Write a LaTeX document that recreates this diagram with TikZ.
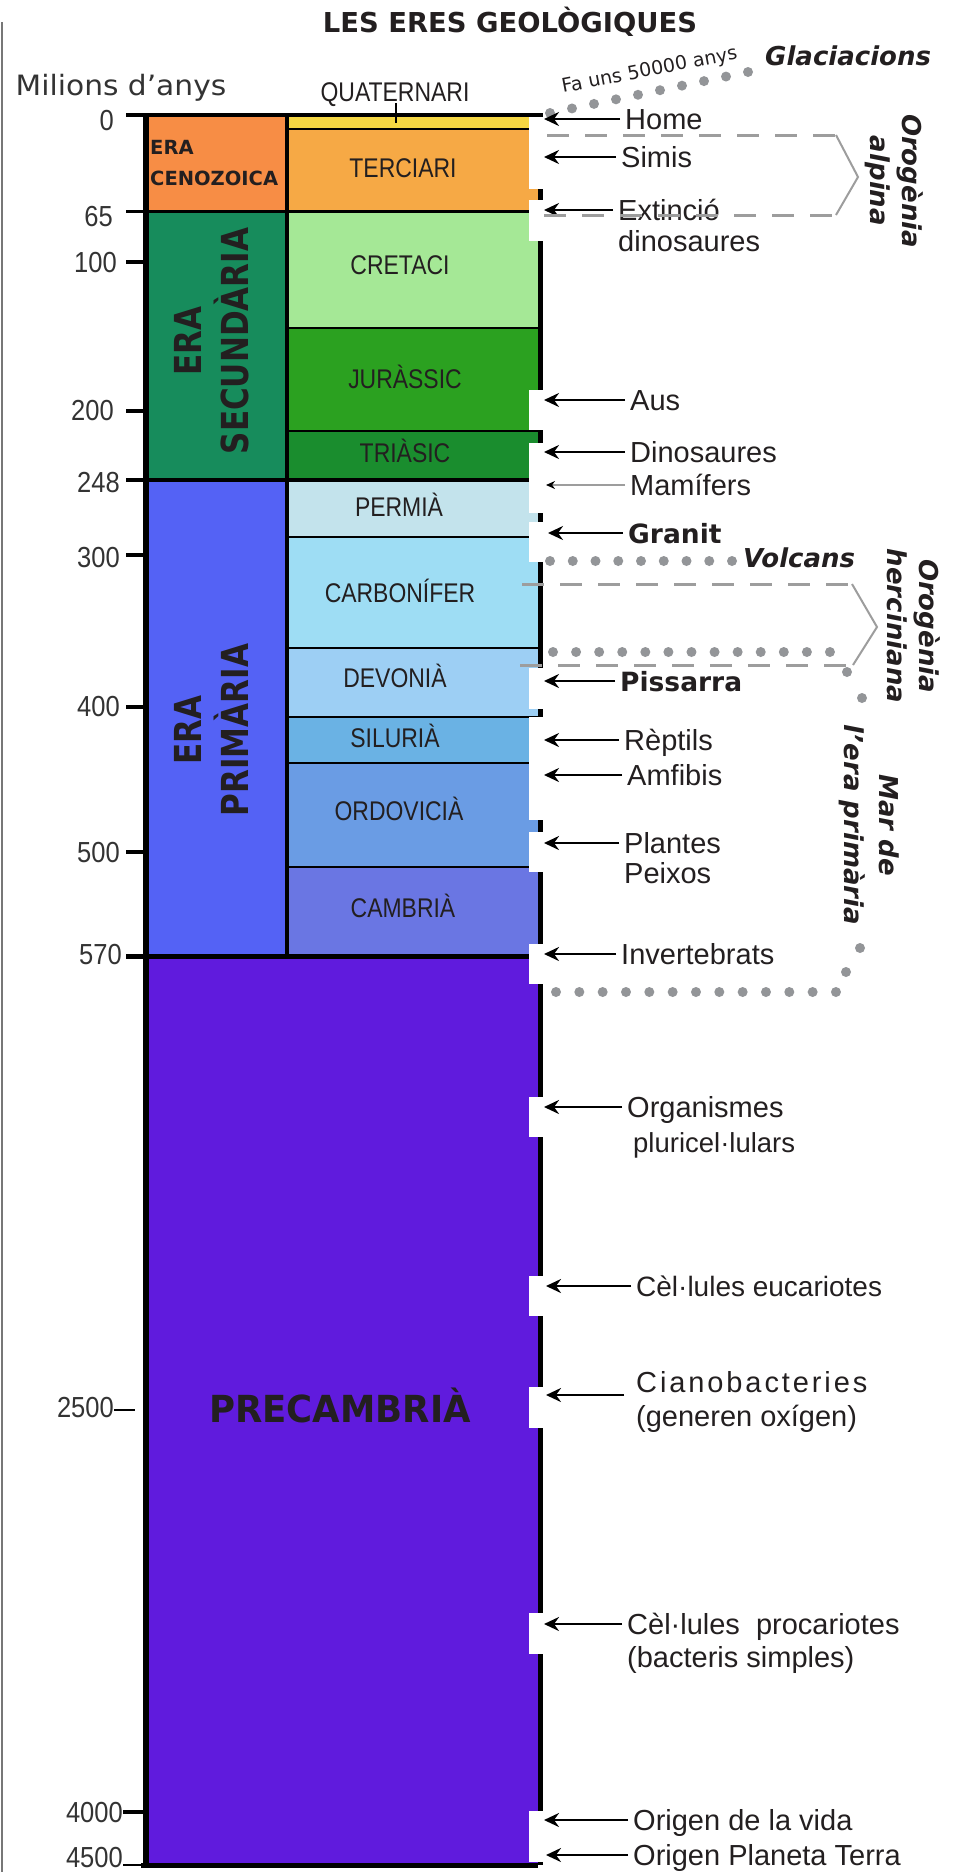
\documentclass[tikz,border=0pt]{standalone}
\usepackage{fontspec}
\setmainfont{DejaVu Sans}
\newfontfamily\numfont[FakeStretch=0.88]{Liberation Sans}
\newfontfamily\perfont[FakeStretch=0.85]{Liberation Sans}
\newfontfamily\lbfont{Liberation Sans}
\usetikzlibrary{arrows.meta,calc}
\definecolor{cen}{HTML}{F78D45}
\definecolor{qua}{HTML}{F6D743}
\definecolor{ter}{HTML}{F6A945}
\definecolor{sec}{HTML}{178C5C}
\definecolor{cre}{HTML}{A5E896}
\definecolor{jur}{HTML}{2BA120}
\definecolor{tri}{HTML}{1A8D2E}
\definecolor{pri}{HTML}{5462F5}
\definecolor{pem}{HTML}{C3E3EC}
\definecolor{car}{HTML}{9EDDF4}
\definecolor{dev}{HTML}{9DCFF4}
\definecolor{sil}{HTML}{6AB2E4}
\definecolor{ord}{HTML}{6A9CE4}
\definecolor{cam}{HTML}{6A76E3}
\definecolor{pre}{HTML}{601BDD}
\definecolor{txt}{HTML}{231F20}
\definecolor{numc}{HTML}{333333}
\definecolor{dotg}{HTML}{939598}
\definecolor{dashg}{HTML}{9D9D9D}
\definecolor{frame}{HTML}{777777}
\tikzset{
  lbl/.style={anchor=west, inner xsep=5pt, inner ysep=0pt, text height=21pt, text depth=0pt, font=\lbfont\fontsize{29}{33}\selectfont, text=txt},
  blbl/.style={lbl, font=\fontsize{26.5}{31}\selectfont\bfseries},
  arr/.style={line width=2.5pt, -{Stealth[length=15pt,width=14pt,inset=5pt]}},
  per/.style={font=\perfont\fontsize{27}{30}\selectfont, text=txt, inner sep=0pt, text height=19.3pt, text depth=0pt},
  num/.style={anchor=east, font=\numfont\fontsize{29}{30}\selectfont, text=numc, inner sep=0pt, text height=21pt, text depth=0pt},
  tickl/.style={line width=3.5pt},
  notch/.style={fill=white},
  dashl/.style={draw=dashg, line width=3pt, dash pattern=on 22pt off 16pt},
  chev/.style={draw=dashg, line width=2pt},
  rot/.style={font=\fontsize{26}{32}\selectfont\bfseries\itshape, text=txt, align=center, rotate=-90, inner sep=0pt},
  eralbl/.style={font=\fontsize{31}{31}\selectfont\bfseries, text=txt, rotate=90, inner sep=0pt, text height=27pt, text depth=0pt},
  bit/.style={font=\fontsize{26}{31}\selectfont\bfseries\itshape, text=txt, inner sep=0pt, anchor=west},
}
\begin{document}
\begin{tikzpicture}[x=1pt,y=-1pt]
\useasboundingbox (0,0) rectangle (959,1872);

% frame line at left
\draw[draw=frame, line width=2pt] (1.5,22) -- (1.5,1872);

% title and axis caption
\node[font=\fontsize{27.4}{30}\selectfont\bfseries, text=txt, inner sep=0pt, text height=20pt, text depth=0pt] (title) at (510,22) {LES ERES GEOLÒGIQUES};
\node[font=\fontsize{28}{30}\selectfont, text=numc, inner sep=0pt, text height=20pt, text depth=0pt] (milions) at (121,85) {\scalebox{1.06}[1]{Milions d'anys}};

% fills: eras
\fill[cen] (146,115) rectangle (287,211);
\fill[sec] (146,211) rectangle (287,480);
\fill[pri] (146,480) rectangle (287,956);
\fill[pre] (146,956) rectangle (538,1865);
% fills: periods
\fill[qua] (287,115) rectangle (538,129);
\fill[ter] (287,129) rectangle (538,211);
\fill[cre] (287,211) rectangle (538,328);
\fill[jur] (287,328) rectangle (538,431);
\fill[tri] (287,431) rectangle (538,480);
\fill[pem] (287,480) rectangle (538,537);
\fill[car] (287,537) rectangle (538,648);
\fill[dev] (287,648) rectangle (538,717);
\fill[sil] (287,717) rectangle (538,763);
\fill[ord] (287,763) rectangle (538,867);
\fill[cam] (287,867) rectangle (538,956);

% period boundaries
\foreach \yy in {129,328,431,537,648,717,763,867}
  \draw[line width=2pt] (287,\yy) -- (538,\yy);
% era boundaries
\draw[line width=4pt] (126,115) -- (538,115);
\draw[line width=3pt] (126,211) -- (538,211);
\draw[line width=4pt] (126,480) -- (538,480);
\draw[line width=5pt] (126,956) -- (538,956);
% column borders
\draw[line width=5.5pt] (146,113) -- (146,1867);
\draw[line width=3.5pt] (287,115) -- (287,956);
\draw[line width=5pt] (540,113) -- (540,1865);
\draw[line width=5pt] (141,1865) -- (538,1865);
% ticks
\foreach \yy in {262,411,555,707,852}
  \draw[tickl] (126,\yy) -- (146,\yy);
\draw[tickl] (123,1812) -- (146,1812);
\draw[line width=1.5pt] (114,1410) -- (135,1410);
\draw[line width=2pt] (123,1865) -- (141,1865);
\draw[line width=1.5pt] (396,103) -- (396,123);

% axis numbers
\node[num] (n0) at (114,120) {0};
\node[num] (n65) at (113,216) {65};
\node[num] (n100) at (117,262) {100};
\node[num] (n200) at (114,410) {200};
\node[num] (n248) at (120,482) {248};
\node[num] (n300) at (120,557) {300};
\node[num] (n400) at (120,706) {400};
\node[num] (n500) at (120,852) {500};
\node[num] (n570) at (122,954) {570};
\node[num] (n2500) at (114,1407) {2500};
\node[num] (n4000) at (123,1812) {4000};
\node[num] (n4500) at (123,1857) {4500};

% period names
\node[per] (pqua) at (395,92) {QUATERNARI};
\node[per] (pter) at (403,168) {TERCIARI};
\node[per] (pcre) at (400,265) {CRETACI};
\node[per] (pjur) at (405,379) {JURÀSSIC};
\node[per] (ptri) at (405,453) {TRIÀSIC};
\node[per] (ppem) at (399,507) {PERMIÀ};
\node[per] (pcar) at (400,593) {CARBONÍFER};
\node[per] (pdev) at (395,678) {DEVONIÀ};
\node[per] (psil) at (395,738) {SILURIÀ};
\node[per] (pord) at (399,811) {ORDOVICIÀ};
\node[per] (pcam) at (403,908) {CAMBRIÀ};

% era names
\node[font=\fontsize{19.5}{22}\selectfont\bfseries, text=txt, anchor=west, inner sep=0pt, text height=14pt, text depth=0pt] (ecen1) at (150,147) {ERA};
\node[font=\fontsize{19.5}{22}\selectfont\bfseries, text=txt, anchor=west, inner sep=0pt, text height=14pt, text depth=0pt] (ecen2) at (150,178) {CENOZOICA};
\node[eralbl] (esec1) at (188,341) {\scalebox{1}[1.2]{ERA}};
\node[eralbl] (esec2) at (235,341) {\scalebox{1}[1.2]{SECUNDÀRIA}};
\node[eralbl] (epri1) at (188,730) {\scalebox{1}[1.2]{ERA}};
\node[eralbl] (epri2) at (235,730) {\scalebox{1}[1.2]{PRIMÀRIA}};
\node[font=\fontsize{35.5}{36}\selectfont\bfseries, text=txt, inner sep=0pt, text height=27pt, text depth=0pt] (epre) at (340,1409) {\scalebox{1}[1.05]{PRECAMBRIÀ}};

% white notches at the arrow tips
\foreach \ya/\yb in {117/189,200/241,390/430,443/513,522/562,668/709,717/820,832/872,944/984,1097/1137,1276/1316,1387/1428,1613/1654,1811/1862}
  \fill[notch] (529,\ya) rectangle (547,\yb);

% dotted lines
\foreach \i in {0,...,9}
  \fill[dotg] ({550+\i*22},{113-\i*4.556}) circle[radius=5pt];
\foreach \i in {0,...,8}
  \fill[dotg] ({550+\i*22.75},561) circle[radius=5pt];
\foreach \i in {0,...,12}
  \fill[dotg] ({553+\i*23.08},652) circle[radius=5pt];
\foreach \i in {0,...,12}
  \fill[dotg] ({556+\i*23.33},992) circle[radius=5pt];
\foreach \p in {(847,672),(862,698),(860,948),(846,972)}
  \fill[dotg] \p circle[radius=5pt];

% labels
\node[lbl] (home) at (620,119) {Home};
\node[lbl] (simis) at (616,157) {Simis};
\node[lbl] (ext1) at (613,210) {Extinció};
\node[lbl] (ext2) at (613,241) {dinosaures};
\node[lbl] (aus) at (625,400) {Aus};
\node[lbl] (dino) at (625,452) {Dinosaures};
\node[lbl] (mam) at (625,485) {Mamífers};
\node[blbl] (granit) at (623,533) {Granit};
\node[blbl] (piss) at (615,681) {Pissarra};
\node[lbl] (rept) at (619,740) {Rèptils};
\node[lbl] (amf) at (622,775) {Amfibis};
\node[lbl] (plan1) at (619,843) {Plantes};
\node[lbl] (plan2) at (619,873) {Peixos};
\node[lbl] (inv) at (616,954) {Invertebrats};
\node[lbl] (org1) at (622,1107) {Organismes};
\node[lbl, font=\lbfont\fontsize{27.5}{33}\selectfont] (org2) at (628,1142) {pluricel·lulars};
\node[lbl, font=\lbfont\fontsize{28}{33}\selectfont] (euc) at (631,1286) {Cèl·lules eucariotes};
\node[lbl] (cia1) at (631,1382) {\addfontfeatures{LetterSpace=10}Cianobacteries};
\node[lbl] (cia2) at (631,1416) {(generen oxígen)};
\node[lbl] (pro1) at (622,1624) {Cèl·lules\ \ procariotes};
\node[lbl] (pro2) at (622,1657) {(bacteris simples)};
\node[lbl] (vida) at (628,1820) {Origen de la vida};
\node[lbl] (terra) at (628,1855) {Origen Planeta Terra};

% arrow tips
\coordinate (tHome) at (544,119);
\coordinate (tSimis) at (544,157);
\coordinate (tExt) at (544,210);
\coordinate (tAus) at (544,400);
\coordinate (tDino) at (544,452);
\coordinate (tMam) at (546,485);
\coordinate (tGranit) at (548,533);
\coordinate (tPiss) at (544,681);
\coordinate (tRept) at (544,740);
\coordinate (tAmf) at (544,775);
\coordinate (tPlan) at (544,843);
\coordinate (tInv) at (544,954);
\coordinate (tOrg) at (544,1107);
\coordinate (tEuc) at (546,1286);
\coordinate (tCia) at (546,1395);
\coordinate (ciaS) at (624,1395);
\coordinate (tPro) at (544,1624);
\coordinate (tVida) at (544,1820);
\coordinate (tTerra) at (546,1855);

\draw[arr] (home.west) -- (tHome);
\draw[arr] (simis.west) -- (tSimis);
\draw[arr] (ext1.west) -- (tExt);
\draw[arr] (aus.west) -- (tAus);
\draw[arr] (dino.west) -- (tDino);
\draw[draw=dashg, line width=1.5pt, -{Stealth[black,length=9pt,width=8pt]}] (mam.west) -- (tMam);
\draw[arr] (granit.west) -- (tGranit);
\draw[arr] (piss.west) -- (tPiss);
\draw[arr] (rept.west) -- (tRept);
\draw[arr] (amf.west) -- (tAmf);
\draw[arr] (plan1.west) -- (tPlan);
\draw[arr] (inv.west) -- (tInv);
\draw[arr] (org1.west) -- (tOrg);
\draw[arr] (euc.west) -- (tEuc);
\draw[arr] (ciaS) -- (tCia);
\draw[arr] (pro1.west) -- (tPro);
\draw[arr] (vida.west) -- (tVida);
\draw[arr] (terra.west) -- (tTerra);

% side annotations
\node[font=\fontsize{19}{22}\selectfont, text=txt, rotate=11, anchor=base west, inner sep=0pt] (fa) at (563,93) {Fa uns 50000 anys};
\node[bit] (glac) at (765,56) {Glaciacions};
\node[bit] (volc) at (743,558) {Volcans};
\node[rot] (alp) at (894,181) {Orogènia\\alpina};
\node[rot] (herc) at (914,626) {Orogènia\\herciniana};
\node[rot, font=\fontsize{26}{35}\selectfont\bfseries\itshape] (mar) at (869,825) {Mar de\\l’era primària};

% orogeny brackets
\draw[dashl] (547,135) -- (836,135);
\draw[dashl] (544,215) -- (836,215);
\draw[chev] (836,135) -- (858,177) -- (836,215);
\draw[dashl] (522,584) -- (852,584);
\draw[dashl] (520,665) -- (853,665);
\draw[chev] (852,584) -- (877,627) -- (853,665);
\end{tikzpicture}
\end{document}
